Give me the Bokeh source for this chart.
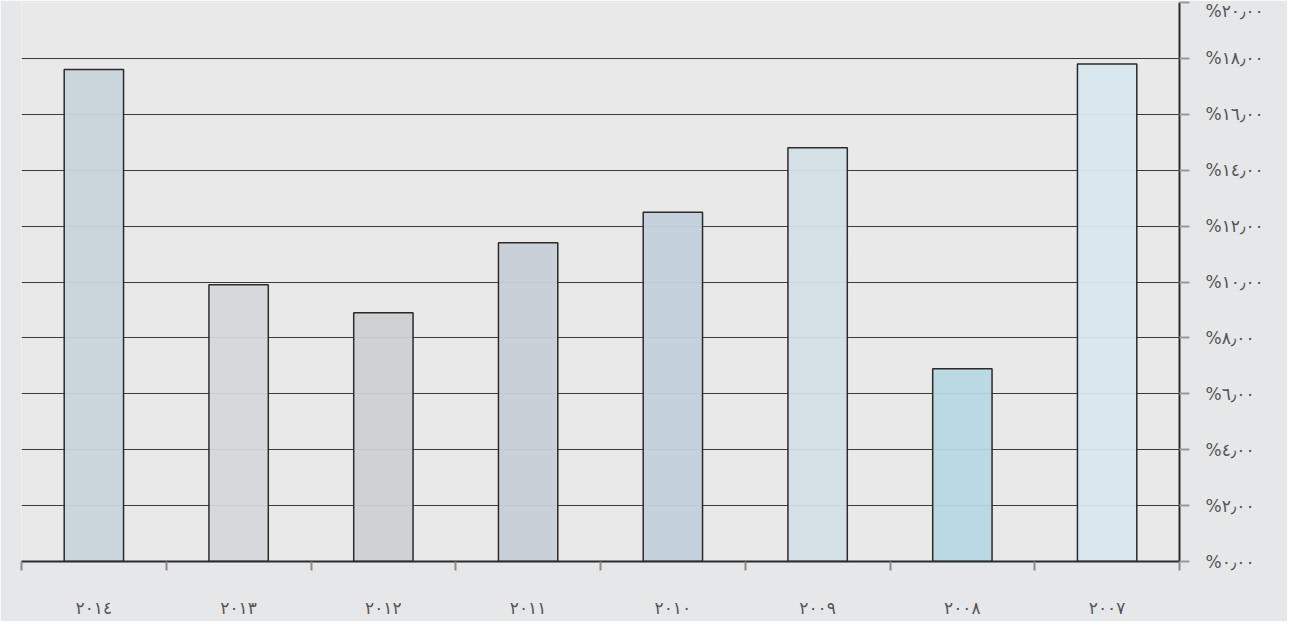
from bokeh.plotting import figure
from bokeh.models import ColumnDataSource, Range1d, FixedTicker
from bokeh.embed import file_html
from bokeh.resources import INLINE

# ---- data ----
years = ["٢٠١٤", "٢٠١٣", "٢٠١٢", "٢٠١١", "٢٠١٠", "٢٠٠٩", "٢٠٠٨", "٢٠٠٧"]
values = [17.6, 9.9, 8.9, 11.4, 12.5, 14.8, 6.9, 17.8]
bar_colors = ["#c9d5db", "#d6d7db", "#cfd0d4", "#c8cfd7", "#c3d0db", "#d3dfe6", "#b8d8e2", "#d8e8ee"]
y_ticks = [0, 2, 4, 6, 8, 10, 12, 14, 16, 18, 20]
y_tick_labels = ["%٠٫٠٠", "%٢٫٠٠", "%٤٫٠٠", "%٦٫٠٠", "%٨٫٠٠", "%١٠٫٠٠",
                 "%١٢٫٠٠", "%١٤٫٠٠", "%١٦٫٠٠", "%١٨٫٠٠", "%٢٠٫٠٠"]

n = len(years)
xs = [i + 0.5 for i in range(n)]
src = ColumnDataSource(dict(x=xs, top=values, color=bar_colors, year=years))

W, H = 1287, 621
p = figure(width=W, height=H, output_backend="svg", toolbar_location=None,
           x_range=Range1d(0, n), y_range=Range1d(0, 20),
           x_axis_location="below", y_axis_location="right",
           min_border_left=21, min_border_right=108, min_border_top=2, min_border_bottom=60)

p.background_fill_color = "#e9e9ea"
p.border_fill_color = "#e6e7e9"
p.outline_line_color = None

p.vbar(x="x", top="top", bottom=0, width=0.41, source=src,
       fill_color="color", fill_alpha=0.95, line_color="#2a2a2a", line_width=1.5)

# x axis: labels at centres, ticks at category boundaries
xt = FixedTicker(ticks=xs, minor_ticks=list(range(n + 1)))
p.xaxis.ticker = xt
p.xaxis.major_label_overrides = {x: y for x, y in zip(xs, years)}
p.xaxis.major_tick_line_color = None
p.xaxis.major_tick_out = 0
p.xaxis.major_tick_in = 0
p.xaxis.minor_tick_out = 9
p.xaxis.minor_tick_in = 0
p.xaxis.minor_tick_line_color = "#8a8a8a"
p.xaxis.minor_tick_line_width = 2
p.xaxis.axis_line_color = "#2a2a2a"
p.xaxis.axis_line_width = 2
p.xaxis.major_label_standoff = 27
p.xaxis.major_label_text_font = "DejaVu Sans"
p.xaxis.major_label_text_font_size = "17px"
p.xaxis.major_label_text_color = "#555555"

# y axis on the right
yt = FixedTicker(ticks=y_ticks, minor_ticks=[])
p.yaxis.ticker = yt
p.yaxis.major_label_overrides = {t: l for t, l in zip(y_ticks, y_tick_labels)}
p.yaxis.major_tick_out = 10
p.yaxis.major_tick_in = 0
p.yaxis.major_tick_line_color = "#9a9a9a"
p.yaxis.major_tick_line_width = 2
p.yaxis.minor_tick_line_color = None
p.yaxis.axis_line_color = "#2a2a2a"
p.yaxis.axis_line_width = 2
p.yaxis.major_label_standoff = 16
p.yaxis.major_label_text_font = "DejaVu Sans"
p.yaxis.major_label_text_font_size = "17px"
p.yaxis.major_label_text_color = "#555555"

p.xgrid.grid_line_color = None
p.ygrid.ticker = yt
p.ygrid.grid_line_color = "#3a3a3a"
p.ygrid.grid_line_width = 1

open("out.html", "w").write(file_html(p, INLINE))
